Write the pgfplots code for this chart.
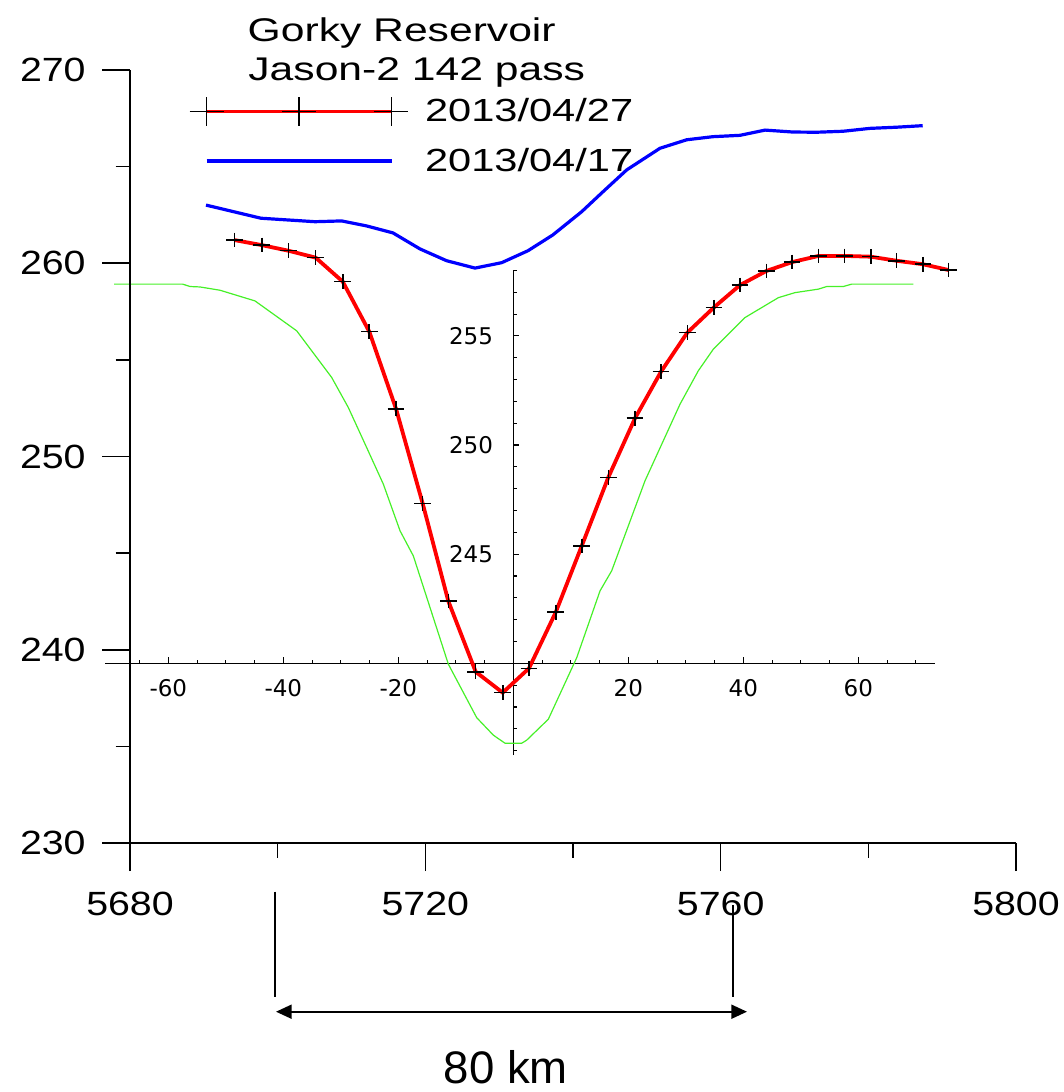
\documentclass[border=0pt]{standalone}
\usepackage{fontspec}
\setmainfont{Liberation Sans}
\newfontfamily\tickfont{Liberation Sans}[FakeStretch=1.17]
\newfontfamily\legfont{Liberation Sans}[FakeStretch=1.3]
\newfontfamily\insetfont{DejaVu Sans}
\usepackage{pgfplots}
\pgfplotsset{compat=1.18}
\usetikzlibrary{arrows.meta}
\definecolor{lgreen}{RGB}{70,240,40}

\begin{document}
\begin{tikzpicture}
\useasboundingbox (0pt,0pt) rectangle (532pt,-546pt);

% ---------- inset: vertical axis ----------
\begin{axis}[at={(256.65pt,-377.5pt)}, anchor=south west,
  scale only axis, width=211pt, height=242.3pt,
  xmin=0, xmax=73.4, ymin=235.8, ymax=258,
  axis y line*=left, axis x line=none,
  ytick={245,250,255}, minor ytick={236,237,...,258},
  tick align=inside, major tick length=3pt, minor tick length=2pt,
  tick style={black, line width=0.55pt}, axis line style={black, line width=0.6pt},
  /pgf/number format/assume math mode=true,
  yticklabel style={font=\insetfont\fontsize{11.5pt}{12pt}\selectfont, inner sep=0pt, anchor=east, xshift=-10pt},
  scaled ticks=false]
\addplot[draw=none] coordinates {(10,250)};
\end{axis}

% ---------- inset: horizontal axis + green profile ----------
\begin{axis}[at={(52.53pt,-331.65pt)}, anchor=south west,
  scale only axis, width=415.15pt, height=196.47pt,
  xmin=-71, xmax=73.4, ymin=240, ymax=258,
  axis x line*=bottom, axis y line=none, clip=false,
  xtick={-60,-40,-20,20,40,60},
  minor xtick={-65,-55,-50,-45,-35,-30,-25,-15,-10,-5,5,10,15,25,30,35,45,50,55,65,70},
  tick align=inside, major tick length=3pt, minor tick length=1.75pt,
  tick style={black, line width=0.55pt}, axis line style={black, line width=0.6pt},
  /pgf/number format/assume math mode=true,
  xticklabel style={font=\insetfont\fontsize{11.5pt}{12pt}\selectfont, inner sep=0pt, anchor=north, yshift=-8pt},
  scaled ticks=false]
\addplot[lgreen, line width=0.6pt] coordinates {
(-69.44,257.37) (-57.50,257.37) (-56.23,257.26) (-54.49,257.24) (-51.01,257.09)
(-44.92,256.60) (-37.67,255.23) (-31.58,253.09) (-28.70,251.72) (-25.50,249.88)
(-22.61,248.21) (-19.70,246.07) (-17.39,244.92) (-11.30,239.96) (-6.37,237.51)
(-3.48,236.71) (-2.61,236.55) (-1.44,236.34) (1.46,236.34) (2.33,236.48)
(6.09,237.44) (11.03,240.26) (15.08,243.32) (17.11,244.24) (22.90,248.36)
(28.99,251.87) (32.17,253.40) (34.78,254.39) (40.30,255.84) (46.09,256.75)
(48.99,256.98) (53.04,257.14) (54.50,257.26) (57.39,257.26) (58.85,257.37)
(69.57,257.37)};
\end{axis}

% ---------- main axis ----------
\begin{axis}[at={(65pt,-421.5pt)}, anchor=south west,
  scale only axis, width=443pt, height=386.5pt,
  xmin=5680, xmax=5800, ymin=230, ymax=270,
  axis x line*=bottom, axis y line*=left, clip=false,
  xtick={5680,5720,5760,5800}, minor xtick={5700,5740,5780},
  ytick={230,240,250,260,270}, minor ytick={235,245,255,265},
  tick align=outside, major tick length=14pt, minor tick length=7.25pt,
  tick style={black, line width=0.8pt}, axis line style={black, line width=0.8pt},
  /pgf/number format/assume math mode=true,
  /pgf/number format/1000 sep={},
  scaled ticks=false,
  tick label style={font=\tickfont\fontsize{16.8pt}{17pt}\selectfont, inner sep=0pt},
  yticklabel style={xshift=-8pt},
  xticklabel style={yshift=-10.5pt},
  legend style={at={(0.0666,0.9664)}, anchor=north west, draw=none, fill=none,
    inner sep=0pt, outer sep=0pt, row sep=10pt,
    font=\legfont\fontsize{16pt}{16pt}\selectfont,
    nodes={inner sep=0pt},
    /tikz/every odd column/.append style={column sep=8pt}},
  legend cell align=left]
\addplot[red, line width=1.9pt, mark=+, mark size=3.7pt,
  mark options={black, line width=0.8pt, xscale=1.12},
  legend image code/.code={
    \draw[red, line width=1.7pt] (0pt,0pt) -- (92.35pt,0pt);
    \draw[black, line width=0.65pt]
      (-8.5pt,0pt) -- (8.5pt,0pt) (0pt,-7.3pt) -- (0pt,7.3pt)
      (37.7pt,0pt) -- (54.7pt,0pt) (46.2pt,-7.3pt) -- (46.2pt,7.3pt)
      (83.85pt,0pt) -- (100.85pt,0pt) (92.35pt,-7.3pt) -- (92.35pt,7.3pt);
  }] coordinates {
(5694.13,261.20) (5697.84,260.94) (5701.44,260.65) (5705.15,260.29) (5708.81,259.05)
(5712.41,256.46) (5716.03,252.47) (5719.64,247.57) (5723.11,242.52) (5726.82,238.86)
(5730.48,237.78) (5734.04,239.04) (5737.66,241.94) (5741.18,245.37) (5744.78,248.92)
(5748.40,251.98) (5751.92,254.39) (5755.48,256.41) (5759.10,257.72) (5762.62,258.87)
(5766.19,259.60) (5769.68,260.06) (5773.26,260.38) (5776.79,260.38) (5780.32,260.34)
(5783.80,260.13) (5787.39,259.95) (5790.87,259.65)};
\addplot[blue, line width=1.6pt,
  legend image code/.code={
    \path[draw=none, fill=none] (-8.5pt,-7.3pt) rectangle (100.85pt,7.3pt);
    \draw[blue, line width=1.6pt] (0pt,0pt) -- (92.6pt,0pt);
  }] coordinates {
(5690.29,263.01) (5697.74,262.33) (5705.06,262.15) (5708.67,262.19) (5712.06,261.93)
(5715.62,261.57) (5719.28,260.74) (5722.89,260.13) (5726.73,259.75) (5730.34,260.03)
(5733.91,260.65) (5737.25,261.46) (5741.18,262.67) (5744.06,263.70) (5747.27,264.83)
(5751.78,265.95) (5755.40,266.39) (5758.96,266.55) (5762.62,266.62) (5766.01,266.89)
(5769.80,266.79) (5773.01,266.78) (5776.57,266.83) (5780.23,266.98) (5783.84,267.04)
(5787.36,267.12)};
\legend{2013/04/27, 2013/04/17}
\end{axis}

% ---------- titles and annotation ----------
\node[anchor=base west, inner sep=0pt, font=\legfont\fontsize{16.4pt}{17pt}\selectfont] at (123.65pt,-20.85pt) {Gorky Reservoir};
\node[anchor=base west, inner sep=0pt, font=\legfont\fontsize{16.4pt}{17pt}\selectfont] at (124pt,-40pt) {Jason-2 142 pass};

\draw[line width=0.8pt] (137.5pt,-445.85pt) -- (137.5pt,-498.35pt);
\draw[line width=0.8pt] (366.5pt,-452.5pt) -- (366.5pt,-498.5pt);
\draw[line width=1pt, {Triangle[length=7.85pt,width=7pt]}-{Triangle[length=7.85pt,width=7pt]}] (138pt,-505.85pt) -- (373.5pt,-505.85pt);
\node[anchor=base west, inner sep=0pt, font=\fontsize{22.8pt}{24pt}\selectfont] at (221.65pt,-541.5pt) {80 km};
\end{tikzpicture}
\end{document}
